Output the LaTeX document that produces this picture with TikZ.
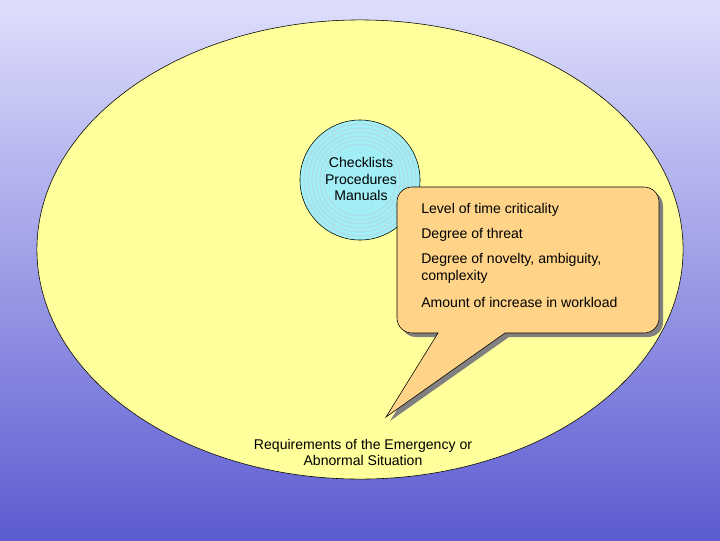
\documentclass[tikz,border=0pt]{standalone}
\usepackage{fontspec}
\setmainfont{Liberation Sans}
\usetikzlibrary{shapes.geometric,positioning}
\definecolor{skytop}{HTML}{DEDEFC}
\definecolor{skybot}{HTML}{5C5CD2}
\definecolor{fieldyellow}{HTML}{FFFF9C}
\definecolor{toolcyan}{HTML}{A2EEF6}
\definecolor{ringline}{HTML}{B4D6DC}
\definecolor{bubblefill}{HTML}{FFD489}
\definecolor{bubbleshadow}{HTML}{808080}
% speech bubble outline, in pixel units of the picture
\newcommand{\bubblepath}{(412,187) -- (644,187)
  arc[start angle=90, end angle=0, radius=0.375cm] -- (659,318)
  arc[start angle=0, end angle=-90, radius=0.375cm] -- (505,333)
  -- (386,417) -- (438,333) -- (412,333)
  arc[start angle=-90, end angle=-180, radius=0.375cm] -- (397,202)
  arc[start angle=180, end angle=90, radius=0.375cm] -- cycle}

\begin{document}
\begin{tikzpicture}[x=0.025cm, y=-0.025cm,
    font=\fontsize{10}{12}\selectfont,
    field/.style={ellipse, draw=black, fill=fieldyellow, inner sep=0pt,
                  minimum width=16.15cm, minimum height=11.475cm},
    tools/.style={circle, draw=black, fill=toolcyan, inner sep=0pt,
                  minimum size=3cm},
    ring/.style={draw=ringline, line width=0.6pt},
    item/.style={anchor=west, align=left, inner sep=0pt}]
  \useasboundingbox (0,0) rectangle (720,540);
  \shade[top color=skytop, bottom color=skybot] (0,0) rectangle (720,540);

  \node[field] (field) at (360,249.5) {};
  \node[tools] (tools) at (360,180) {};
  \foreach \r in {1.4,1.3,1.2,1.1,1.0,0.9}
    \draw[ring] (tools.center) circle[radius=\r cm];
  \node[align=center, inner sep=0pt] (toollist) at (361,179)
        {Checklists\\Procedures\\Manuals};

  % bubble with its shadow
  \fill[bubbleshadow, shift={(4,4)}] \bubblepath;
  \draw[fill=bubblefill] \bubblepath;
  \node[item] (crit) at (421,210) {Level of time criticality};
  \node[item] (threat) at (421,235) {Degree of threat};
  \node[item] (novel) at (421,268.5) {Degree of novelty, ambiguity,\\complexity};
  \node[item] (load) at (421,302) {Amount of increase in workload};

  \node[align=center, inner sep=0pt] (req) at (363,452.5)
        {Requirements of the Emergency or\\Abnormal Situation};
\end{tikzpicture}
\end{document}
